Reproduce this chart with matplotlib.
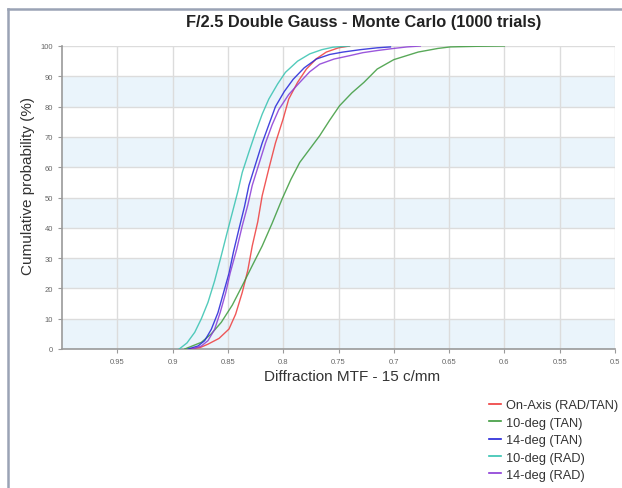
import numpy as np
import matplotlib
matplotlib.use('Agg')
import matplotlib.pyplot as plt
from matplotlib.lines import Line2D

plt.rcParams['font.family'] = ['Liberation Sans', 'DejaVu Sans']

# cumulative curves: (MTF, %)
on_axis_mtf = [0.884, 0.875, 0.868, 0.858, 0.849, 0.843, 0.837, 0.832, 0.828, 0.823, 0.819, 0.813, 0.807, 0.800, 0.795, 0.787, 0.779, 0.770, 0.761, 0.750, 0.740]
on_axis_pct = [0, 0.5, 1.6, 3.5, 6.6, 11.5, 18.7, 26, 34, 42, 50.6, 59.5, 68, 76, 82.5, 88, 92.4, 95.8, 98, 99.4, 100]

tan10_mtf = [0.889, 0.874, 0.865, 0.856, 0.846, 0.837, 0.828, 0.819, 0.810, 0.801, 0.793, 0.785, 0.776, 0.767, 0.758, 0.749, 0.738, 0.727, 0.715, 0.700, 0.678, 0.660, 0.649, 0.625, 0.600]
tan10_pct = [0, 2.2, 5, 8.8, 14.5, 20.9, 27.5, 34, 41.5, 49.5, 56, 61.6, 66, 70.4, 75.5, 80.3, 84.5, 88, 92.4, 95.5, 98, 99.2, 99.7, 99.9, 100]

tan14_mtf = [0.886, 0.877, 0.871, 0.865, 0.859, 0.854, 0.849, 0.845, 0.840, 0.835, 0.831, 0.825, 0.819, 0.813, 0.807, 0.799, 0.791, 0.781, 0.770, 0.758, 0.746, 0.730, 0.715, 0.703]
tan14_pct = [0, 1, 2.75, 6.5, 12, 18.5, 25, 32, 39.6, 47, 54, 61, 68, 74, 80, 85, 89, 92.8, 95.7, 97.2, 98, 98.8, 99.4, 99.7]

rad10_mtf = [0.894, 0.887, 0.880, 0.874, 0.868, 0.862, 0.856, 0.851, 0.846, 0.841, 0.837, 0.831, 0.825, 0.819, 0.813, 0.805, 0.798, 0.787, 0.776, 0.765, 0.755, 0.740]
rad10_pct = [0, 2, 5.5, 10, 15.4, 22.5, 30.8, 38, 45, 52, 58.3, 65, 71.5, 77.5, 82.5, 87.5, 91.3, 95, 97.4, 98.8, 99.6, 100]

rad14_mtf = [0.882, 0.874, 0.868, 0.862, 0.857, 0.852, 0.848, 0.842, 0.837, 0.832, 0.828, 0.822, 0.816, 0.810, 0.804, 0.795, 0.785, 0.776, 0.767, 0.754, 0.740, 0.728, 0.715, 0.700, 0.688, 0.676]
rad14_pct = [0, 1, 2.75, 6.5, 12, 18.5, 25, 33, 40.7, 47.5, 54, 61, 68, 74, 79, 84, 88, 91.5, 94, 95.7, 96.8, 97.8, 98.5, 99.2, 99.7, 100]

series = [
    ('On-Axis (RAD/TAN)', on_axis_mtf, on_axis_pct, '#ee3b3b'),
    ('10-deg (TAN)', tan10_mtf, tan10_pct, '#3c9a3c'),
    ('14-deg (TAN)', tan14_mtf, tan14_pct, '#2323d8'),
    ('10-deg (RAD)', rad10_mtf, rad10_pct, '#35c2b0'),
    ('14-deg (RAD)', rad14_mtf, rad14_pct, '#8a3ad6'),
]

x_ticks = [0.95, 0.9, 0.85, 0.8, 0.75, 0.7, 0.65, 0.6, 0.55, 0.5]
x_labels = ['0.95', '0.9', '0.85', '0.8', '0.75', '0.7', '0.65', '0.6', '0.55', '0.5']
y_ticks = list(range(0, 101, 10))

fig = plt.figure(figsize=(6.22, 4.89), dpi=100)
ax = fig.add_axes([62 / 622, 1 - 350 / 489, (615 - 62) / 622, (350 - 47) / 489])

# alternating bands
for lo in range(0, 100, 20):
    ax.axhspan(lo, lo + 10, color='#eaf4fb', zorder=0, lw=0)

ax.set_xlim(1.0, 0.5)
ax.set_ylim(0, 100)
ax.set_xticks(x_ticks)
ax.set_xticklabels(x_labels)
ax.set_yticks(y_ticks)
ax.grid(True, color='#dcdcdc', lw=1, zorder=1)
ax.set_axisbelow(True)

for name, xs, ys, c in series:
    ax.plot(xs, ys, color=c, lw=1.0, alpha=0.85, zorder=3)

for s in ['top', 'right']:
    ax.spines[s].set_visible(False)
for s in ['left', 'bottom']:
    ax.spines[s].set_color('#9a9a9a')
    ax.spines[s].set_linewidth(1.2)
ax.tick_params(axis='both', labelsize=5.5, labelcolor='#666666', color='#9a9a9a', length=3, width=0.8)

fig.text(364 / 622, 1 - 23 / 489, 'F/2.5 Double Gauss - Monte Carlo (1000 trials)',
         ha='center', va='center', fontsize=11.8, fontweight='bold', color='#222222')
fig.text(352 / 622, 1 - 377 / 489, 'Diffraction MTF - 15 c/mm', ha='center', va='center',
         fontsize=11, color='#333333')
fig.text(28 / 622, 1 - 186 / 489, 'Cumulative probability (%)', ha='center', va='center',
         rotation=90, fontsize=11, color='#333333')

handles = [Line2D([], [], color=c, lw=1.2) for _, _, _, c in series]
fig.legend(handles, [s[0] for s in series], loc='upper left',
           bbox_to_anchor=(477 / 622, 1 - 389 / 489), frameon=False, fontsize=9.2,
           handlelength=1.0, handletextpad=0.4, labelspacing=0.42, labelcolor='#333333')

# outer frame
fig.add_artist(Line2D([8 / 622, 8 / 622], [0, 1 - 10 / 489], color='#9aa3b5', lw=1.8))
fig.add_artist(Line2D([8 / 622, 1], [1 - 10 / 489, 1 - 10 / 489], color='#9aa3b5', lw=1.8))

fig.savefig('out.png', dpi=100)
